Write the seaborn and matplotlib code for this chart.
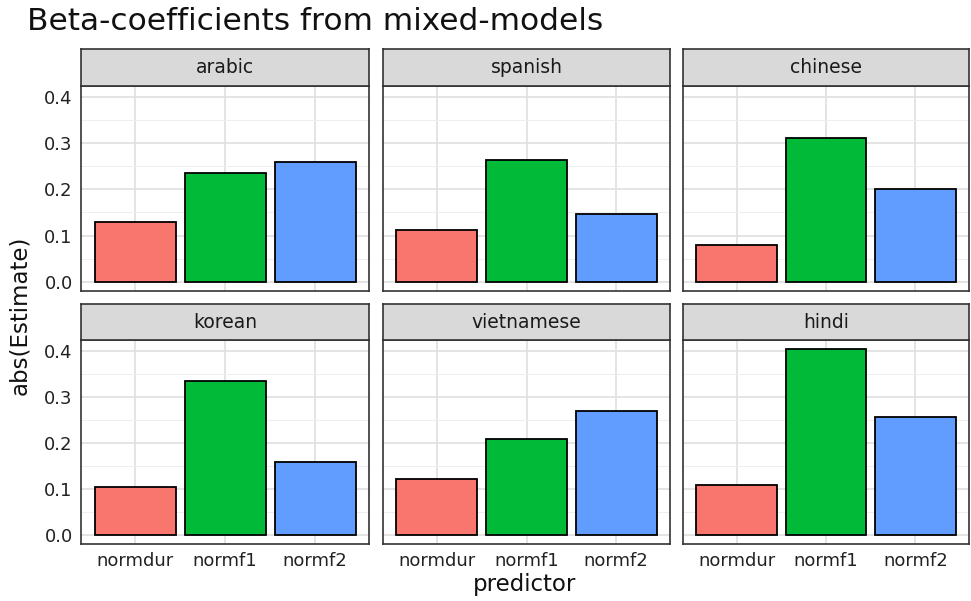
import numpy as np
import pandas as pd
import matplotlib
matplotlib.use("Agg")
import matplotlib.pyplot as plt
from matplotlib.ticker import MultipleLocator
import seaborn as sns

# Absolute beta estimates per language and predictor
languages = ["arabic", "spanish", "chinese", "korean", "vietnamese", "hindi"]
predictors = ["normdur", "normf1", "normf2"]
normdur = [0.130, 0.111, 0.080, 0.104, 0.122, 0.109]
normf1 = [0.235, 0.263, 0.311, 0.335, 0.208, 0.404]
normf2 = [0.259, 0.146, 0.200, 0.158, 0.270, 0.256]
palette = ["#F8766D", "#00BA38", "#619CFF"]
y_ticks = [0.0, 0.1, 0.2, 0.3, 0.4]

rows = []
for i, lang in enumerate(languages):
    for pred, vals in zip(predictors, [normdur, normf1, normf2]):
        rows.append({"language": lang, "predictor": pred, "estimate": vals[i]})
df = pd.DataFrame(rows)

sns.set_theme(style="white")
plt.rcParams["font.family"] = ["DejaVu Sans"]

W, H = 971, 601
fig = plt.figure(figsize=(W / 100, H / 100), dpi=100)
fig.patch.set_facecolor("white")

col_x = [(81, 369), (383, 670), (683, 969)]
row_y = [(49, 86, 291), (304, 340, 544)]  # strip top, panel top, panel bottom
frame = "#333333"
ymax = max(normdur + normf1 + normf2)
pad = 0.05 * ymax

for k, lang in enumerate(languages):
    r, c = divmod(k, 3)
    x0, x1 = col_x[c]
    st, pt, pb = row_y[r]
    ax = fig.add_axes([x0 / W, 1 - pb / H, (x1 - x0) / W, (pb - pt) / H])
    sub = df[df["language"] == lang]
    sns.barplot(data=sub, x="predictor", y="estimate", hue="predictor",
                order=predictors, hue_order=predictors, palette=palette,
                width=0.9, edgecolor="black", linewidth=1.3, saturation=1,
                errorbar=None, legend=False, ax=ax)
    ax.set_xlim(-0.6, 2.6)
    ax.set_ylim(-pad, ymax + pad)
    ax.set_yticks(y_ticks)
    ax.yaxis.set_minor_locator(MultipleLocator(0.05))
    ax.set_axisbelow(True)
    ax.grid(True, which="major", axis="both", color="#E2E2E2", linewidth=1.3)
    ax.grid(True, which="minor", axis="y", color="#EEEEEE", linewidth=0.7)
    ax.set_facecolor("white")
    for s in ax.spines.values():
        s.set_color(frame)
        s.set_linewidth(1.2)
    ax.set_xlabel("")
    ax.set_ylabel("")
    ax.tick_params(axis="both", which="major", length=4, width=1.1, color=frame,
                   labelsize=13, labelcolor="#222222", pad=2)
    ax.tick_params(axis="y", which="minor", length=0)
    if c != 0:
        ax.tick_params(axis="y", length=0, labelleft=False)
    else:
        ax.set_yticklabels([f"{t:.1f}" for t in y_ticks])
    if r != 1:
        ax.tick_params(axis="x", length=0, labelbottom=False)

    sax = fig.add_axes([x0 / W, 1 - pt / H, (x1 - x0) / W, (pt - st) / H])
    sax.set_facecolor("#D9D9D9")
    sax.set_xticks([])
    sax.set_yticks([])
    for s in sax.spines.values():
        s.set_color(frame)
        s.set_linewidth(1.2)
    sax.text(0.5, 0.5, lang, ha="center", va="center", fontsize=13.5,
             color="#1A1A1A", transform=sax.transAxes)

fig.text(27 / W, 1 - 22 / H, "Beta-coefficients from mixed-models",
         ha="left", va="center", fontsize=22.5, color="#111111")
fig.text(20 / W, 1 - 315 / H, "abs(Estimate)", rotation=90,
         ha="center", va="center", fontsize=16.5, color="#111111")
fig.text(525 / W, 1 - 584 / H, "predictor", ha="center", va="center",
         fontsize=16.5, color="#111111")

fig.savefig("out.png", dpi=100, facecolor="white")
